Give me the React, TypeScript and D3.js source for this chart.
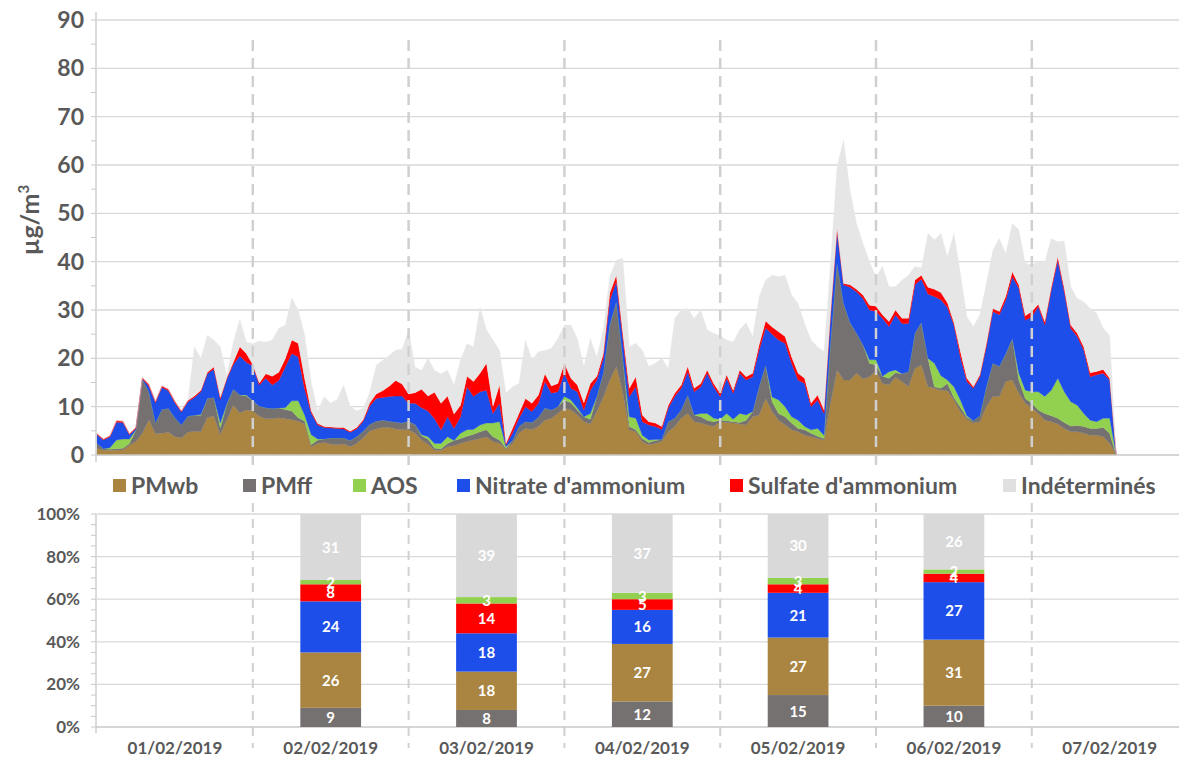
import * as d3 from "d3";

// hourly values (µg/m³), 01/02/2019 00h -> 07/02/2019 13h
const pmwb = [1.4,1.0,1.0,1.0,1.1,2.0,2.8,4.5,7.3,4.4, 4.5,4.7,3.8,3.5,4.7,4.9,4.8,7.8,8.0,4.2, 7.3,10.3,8.7,9.3,9.1,8.0,7.5,7.5,7.7,7.5, 7.3,7.0,6.4,1.7,2.4,2.6,2.2,2.1,2.3,1.7, 2.4,3.5,4.9,5.4,5.7,5.7,5.4,5.2,5.2,4.5, 3.1,2.2,1.0,1.0,1.7,1.9,2.4,2.8,3.1,3.4, 3.7,2.8,2.4,1.2,2.4,4.5,5.5,5.2,5.9,7.2, 7.6,8.6,9.7,9.3,8.3,6.9,6.4,9.0,12.0,15.5, 18.3,13.0,5.2,4.8,2.8,2.1,2.4,2.8,4.8,5.9, 7.6,8.6,6.9,6.6,6.2,5.9,6.9,6.7,6.6,6.4, 6.2,7.9,8.3,11.7,9.0,7.2,6.2,5.2,4.8,4.1, 3.8,3.4,3.1,10.7,17.6,15.5,15.5,16.9,15.7,16.2, 17.4,14.8,14.5,16.1,15.2,14.1,17.9,18.6,14.1,13.8, 13.4,13.3,11.4,9.0,7.4,6.6,6.9,10.0,12.1,12.1, 15.2,15.5,12.8,10.7,9.7,8.6,7.2,6.9,6.4,5.5, 4.8,4.8,4.5,4.1,4.1,3.8,2.4,0];
const pmff = [1.0,0.3,0.2,0.3,0.3,0.4,2.4,11.1,5.7,2.2, 4.9,4.9,3.9,2.7,3.3,3.3,3.4,3.9,3.9,1.4, 3.2,3.3,3.7,2.9,2.1,2.1,2.3,2.1,2.0,1.9, 1.8,0.7,0.6,0.4,0.7,0.7,1.3,1.4,1.2,1.3, 1.4,1.4,1.4,1.6,1.5,1.3,1.4,1.4,1.8,1.8, 0.9,1.1,0.4,0.3,0.7,1.1,1.0,1.1,1.2,1.4, 1.5,1.0,0.7,0.2,0.6,1.4,1.4,1.5,1.9,2.5, 1.7,1.4,1.7,1.5,1.0,1.0,1.0,3.1,5.0,11.5, 13.4,7.0,0.7,0.4,0.6,0.5,0.6,0.4,2.1,1.7, 1.7,3.8,1.4,1.3,1.0,1.0,0.3,0.4,0.3,0.3, 1.0,1.1,5.8,6.9,2.0,1.4,1.7,1.4,0.7,1.1, 0.7,0.5,0.3,12.4,22.1,15.9,11.9,8.3,7.1,2.8, 1.2,1.5,1.4,0.9,1.6,3.1,7.3,8.8,5.9,0.3, 0.4,1.5,0.5,0.9,0.4,0.5,1.2,4.1,6.9,6.2, 5.8,8.6,2.7,1.0,1.0,0.7,1.4,1.2,1.2,1.2, 1.2,1.3,1.4,1.4,1.4,1.9,2.1,0];
const aos = [0,0,0.3,1.8,1.9,0.9,0,0,0,0, 0,0,0,0,0,0,0.2,0,0,1.0, 0.1,0,0,0.2,0,0,0,0,0,0.4, 2.1,3.5,1.2,2.1,0.2,0,0,0,0,0, 0,0,0,0,0,0,0,0,0,0, 0.2,0.5,1.0,1.1,1.4,0,1.1,1.3,1.0,1.4, 1.4,2.8,3.8,0.3,0,0,0,0,0,0, 0,0,0.7,0.6,0.4,0,1.2,0,0,0, 0,0,2.0,2.4,0.7,0.5,0.2,0,0,0, 0,0,0,0.7,1.4,0.7,0.2,1.5,0.5,1.9, 1.1,0,0,0,1.0,2.8,2.1,1.3,1.7,0.7, 0.7,1.6,0.7,0,0,0,0,0,0,0.7, 1.1,0,1.3,0.6,0,0,0,0,0,4.9, 2.6,0.7,2.2,1.5,0.3,0,0,0,0,0, 0,0,1.4,1.7,2.4,3.8,3.5,5.3,8.3,6.4, 5.0,4.2,2.7,1.7,1.4,1.9,3.1,0];
const nitrate = [1.8,1.8,2.3,3.7,3.4,0.9,0.3,0.2,1.2,4.2, 4.6,3.7,3.1,2.7,3.0,3.7,4.7,5.1,5.9,4.9, 5.1,5.1,8.1,6.8,7.2,4.4,6.1,4.9,5.7,8.4, 9.8,9.1,5.4,4.5,2.9,2.4,2.1,2.0,1.9,1.7, 1.6,2.1,3.8,4.7,4.7,5.1,5.4,5.6,3.7,4.4, 5.6,5.3,5.1,2.8,4.1,2.5,3.4,8.9,6.8,6.9, 6.8,2.0,3.8,0.4,1.5,1.7,3.1,2.3,2.9,5.5, 3.5,3.1,4.8,2.4,3.4,1.4,4.8,3.4,3.0,5.0, 4.2,4.0,4.2,6.5,2.8,3.1,2.7,2.1,2.8,4.5, 4.5,4.8,4.8,5.5,8.3,6.5,4.7,7.3,5.4,8.3, 7.2,7.2,7.6,7.7,13.0,12.4,13.1,11.1,8.3,8.9, 4.8,5.9,4.5,5.5,6.5,3.8,7.3,8.6,9.6,10.3, 10.0,12.0,9.4,11.4,10.4,10.0,10.0,9.0,13.3,13.8, 15.7,15.0,12.8,8.9,7.1,6.7,8.1,8.3,10.7,10.7, 11.1,12.8,17.6,14.5,15.5,17.6,14.8,20.7,24.4,20.7, 15.2,14.2,13.1,9.0,9.7,9.3,7.9,0];
const sulfate = [0.2,0.2,0.2,0.3,0.3,0.2,0.2,0.2,0.4,0.3, 0.3,0.3,0.3,0.2,0.3,0.3,0.3,0.3,0.4,0.4, 0.3,0.5,1.9,1.8,0.3,0.4,0.9,1.8,1.7,1.7, 2.8,2.8,2.1,0.4,0.3,0.2,0.2,0.2,0.3,0.2, 0.3,0.3,0.6,0.9,1.4,2.1,3.2,2.5,1.9,2.2, 3.8,3.1,5.5,5.5,4.3,3.0,2.4,2.2,3.1,3.8, 5.6,1.5,3.8,0.3,1.0,1.0,1.7,1.7,1.7,1.6, 1.5,1.7,2.1,2.1,1.4,1.5,1.4,0.8,1.0,1.5, 1.3,1.2,1.7,2.1,1.4,0.7,0.7,0.6,0.6,0.7, 0.7,1.1,0.7,0.7,0.7,0.7,0.7,0.7,0.6,0.7, 0.7,0.7,1.1,1.4,1.5,1.7,1.4,1.3,1.4,1.1, 0.7,1.0,0.7,0.7,0.7,0.3,0.5,0.5,0.7,1.0, 1.1,0.7,1.0,1.0,1.1,1.1,1.0,0.8,1.4,1.5, 1.5,1.0,0.5,1.1,0.7,0.3,0.4,0.6,0.6,0.7, 0.8,1.0,0.7,0.9,1.1,0.5,0.7,0.6,0.7,0.7, 0.7,0.7,0.7,0.8,0.7,0.8,0.4,0];
const indet = [0,0,0,0,0,0,0,0,0,0, 0,0,0,0,0,10.2,6.6,7.7,5.6,10.5, 0.4,4.2,5.7,2.4,4.3,8.7,6.6,7.5,9.1,7.0, 8.7,6.9,9.1,5.9,2.6,6.2,4.9,5.8,8.8,5.2, 3.4,2.3,2.2,5.9,6.3,6.4,6.3,7.2,13.3,5.3, 3.9,7.8,4.5,6.1,5.4,6.0,9.4,6.7,7.2,13.7, 6.9,13.7,7.2,10.4,8.6,6.2,12.1,9.0,9.0,4.8, 7.8,9.3,7.9,11.0,9.6,7.5,9.3,4.0,5.0,3.5, 3.1,15.5,8.6,6.9,13.4,11.4,12.4,14.1,7.6,15.5, 15.5,12.0,14.5,15.2,8.3,10.4,11.8,7.2,10.0,8.3, 11.2,7.6,10.0,8.5,10.7,11.4,12.7,12.8,14.5,11.3, 13.1,10.0,12.1,10.4,12.8,29.7,19.6,13.6,10.7,9.0, 6.1,10.0,7.2,4.8,7.9,8.9,2.8,1.5,11.2,10.2, 12.3,9.5,18.5,16.2,12.7,12.5,12.4,12.5,12.1,15.1, 8.8,10.0,11.4,10.9,9.6,8.8,12.4,10.1,3.1,9.8, 7.9,7.2,9.3,13.3,12.0,8.5,8.9,0];

// daily shares (%)
const days = ["01/02/2019", "02/02/2019", "03/02/2019", "04/02/2019", "05/02/2019", "06/02/2019", "07/02/2019"];
const barDays = ["02/02/2019", "03/02/2019", "04/02/2019", "05/02/2019", "06/02/2019"];
const pctPMff = [9, 8, 12, 15, 10];
const pctPMwb = [26, 18, 27, 27, 31];
const pctNitrate = [24, 18, 16, 21, 27];
const pctSulfate = [8, 14, 5, 4, 4];
const pctAOS = [2, 3, 3, 3, 2];
const pctIndet = [31, 39, 37, 30, 26];

const legendLabels = ["PMwb", "PMff", "AOS", "Nitrate d'ammonium", "Sulfate d'ammonium", "Indéterminés"];
const yTicks = [0, 10, 20, 30, 40, 50, 60, 70, 80, 90];
const pctTicks = [0, 20, 40, 60, 80, 100];

const colors: Record<string, string> = {
  PMwb: "#A98541",
  PMff: "#767171",
  AOS: "#92D050",
  Nitrate: "#1D4EEA",
  Sulfate: "#FF0000",
  Indet: "#E6E6E6",
};
const legendColors = ["#A98541", "#767171", "#92D050", "#1D4EEA", "#FF0000", "#E0E0E0"];
const legendX = [113, 243, 353, 457, 730, 1003];

const W = 1179;
const H = 760;
const font = "Lato, 'Open Sans', sans-serif";
const txt = "#595959";
const grid = "#D9D9D9";

export default function App() {
  const rows = pmwb.map((v, i) => ({
    h: i,
    PMwb: v,
    PMff: pmff[i],
    AOS: aos[i],
    Nitrate: nitrate[i],
    Sulfate: sulfate[i],
    Indet: indet[i],
  }));
  const keys = ["PMwb", "PMff", "AOS", "Nitrate", "Sulfate", "Indet"];
  const series = d3.stack<any>().keys(keys)(rows);

  const dayW = 155.8;
  const x = d3.scaleLinear().domain([0, 168]).range([97, 97 + dayW * 7]);
  const y = d3.scaleLinear().domain([0, 90]).range([455, 20]);

  const area = d3
    .area<any>()
    .x((d) => x(d.data.h))
    .y0((d) => y(d[0]))
    .y1((d) => y(d[1]));

  // bottom chart
  const xb = d3.scaleBand().domain(days).range([97, 97 + dayW * 7]).paddingInner(0.61).paddingOuter(0.305);
  const yb = d3.scaleLinear().domain([0, 100]).range([727, 514]);
  const barRows = barDays.map((d, i) => ({
    day: d,
    PMff: pctPMff[i],
    PMwb: pctPMwb[i],
    Nitrate: pctNitrate[i],
    Sulfate: pctSulfate[i],
    AOS: pctAOS[i],
    Indet: pctIndet[i],
  }));
  const barKeys = ["PMff", "PMwb", "Nitrate", "Sulfate", "AOS", "Indet"];
  const barSeries = d3.stack<any>().keys(barKeys)(barRows);
  const barColors: Record<string, string> = { ...colors, Indet: "#D9D9D9" };

  const boundaries = d3.range(1, 7);

  return (
    <svg width={W} height={H} style={{ position: "absolute", left: 0, top: 0, background: "#fff" }} fontFamily={font}>
      {/* top chart grid */}
      {yTicks.slice(1).map((t) => (
        <line key={"g" + t} x1={97} x2={W} y1={y(t)} y2={y(t)} stroke={grid} strokeWidth={1.3} />
      ))}
      {series.map((s) => (
        <path key={s.key} d={area(s) || ""} fill={colors[s.key]} stroke={colors[s.key]} strokeWidth={0.3} />
      ))}
      {boundaries.map((b) => (
        <line key={"d" + b} x1={x(b * 24)} x2={x(b * 24)} y1={40} y2={470} stroke="#D0D0D0" strokeWidth={2.5} strokeDasharray="11,7" />
      ))}
      <line x1={96} x2={W} y1={455} y2={455} stroke="#C8C8C8" strokeWidth={1.5} />
      <line x1={96} x2={96} y1={12} y2={462} stroke="#C8C8C8" strokeWidth={1.3} />
      {d3.range(0, 91, 5).map((t) => (
        <line key={"m" + t} x1={91} x2={96} y1={y(t)} y2={y(t)} stroke="#C8C8C8" strokeWidth={1} />
      ))}
      {yTicks.map((t) => (
        <text key={"l" + t} x={84} y={y(t) + 8} textAnchor="end" fontSize={23} fontWeight={700} fill={txt}>
          {t}
        </text>
      ))}
      <text transform="translate(39,220) rotate(-90)" textAnchor="middle" fontSize={25} fontWeight={700} fill={txt}>
        µg/m<tspan fontSize={15} dy={-10}>3</tspan>
      </text>

      {/* legend */}
      {legendLabels.map((l, i) => (
        <g key={l}>
          <rect x={legendX[i]} y={479} width={13} height={13} fill={legendColors[i]} />
          <text x={legendX[i] + 18} y={493.5} fontSize={23} fontWeight={700} fill={txt}>
            {l}
          </text>
        </g>
      ))}

      {/* bottom chart */}
      {pctTicks.slice(1).map((t) => (
        <line key={"bg" + t} x1={97} x2={W} y1={yb(t)} y2={yb(t)} stroke={grid} strokeWidth={1.3} />
      ))}
      {boundaries.map((b) => (
        <line key={"bd" + b} x1={x(b * 24)} x2={x(b * 24)} y1={503} y2={748} stroke="#D0D0D0" strokeWidth={2} strokeDasharray="9,7" />
      ))}
      <line x1={96} x2={W} y1={727} y2={727} stroke="#C8C8C8" strokeWidth={1.5} />
      <line x1={96} x2={96} y1={514} y2={733} stroke="#C8C8C8" strokeWidth={1.3} />
      {d3.range(0, 101, 5).map((t) => (
        <line key={"bm" + t} x1={91} x2={96} y1={yb(t)} y2={yb(t)} stroke="#C8C8C8" strokeWidth={1} />
      ))}
      {pctTicks.map((t) => (
        <text key={"bl" + t} x={80} y={yb(t) + 6} textAnchor="end" fontSize={17} fontWeight={700} fill={txt}>
          {t}%
        </text>
      ))}
      {barSeries.map((s) => (
        <g key={"bs" + s.key}>
          {s.map((d: any) => (
            <rect
              key={d.data.day}
              x={xb(d.data.day)}
              width={xb.bandwidth()}
              y={yb(d[1])}
              height={yb(d[0]) - yb(d[1])}
              fill={barColors[s.key]}
            />
          ))}
        </g>
      ))}
      {barSeries.map((s) => (
        <g key={"bt" + s.key}>
          {s.map((d: any) => (
            <text
              key={d.data.day}
              x={(xb(d.data.day) || 0) + xb.bandwidth() / 2}
              y={yb((d[0] + d[1]) / 2) + 5.5}
              textAnchor="middle"
              fontSize={15}
              fontWeight={700}
              fill="#fff"
            >
              {d[1] - d[0]}
            </text>
          ))}
        </g>
      ))}
      {days.map((d) => (
        <text key={"x" + d} x={(xb(d) || 0) + xb.bandwidth() / 2} y={754} textAnchor="middle" fontSize={17} fontWeight={700} fill={txt}>
          {d}
        </text>
      ))}
    </svg>
  );
}
